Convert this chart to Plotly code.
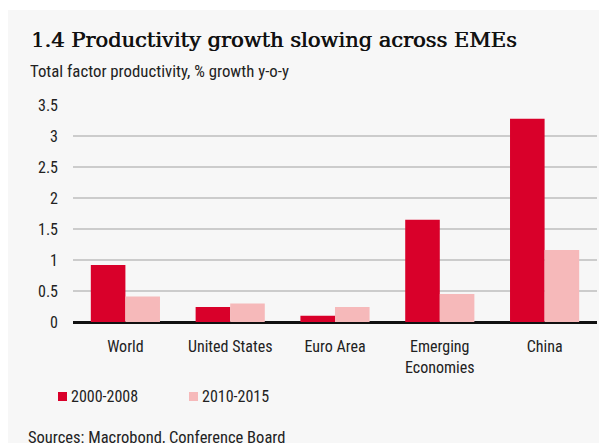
import plotly.graph_objects as go

categories = ["World", "United States", "Euro Area", "Emerging<br>Economies", "China"]
series_names = ["2000-2008", "2010-2015"]
values_2000_2008 = [0.92, 0.24, 0.10, 1.65, 3.28]
values_2010_2015 = [0.41, 0.30, 0.24, 0.45, 1.16]
y_ticks = [0, 0.5, 1, 1.5, 2, 2.5, 3, 3.5]
y_tick_labels = ["0", "0.5", "1", "1.5", "2", "2.5", "3", "3.5"]

RED = "#d9002a"
PINK = "#f6b9ba"
colors = [RED, PINK]
SANS = "Liberation Sans Narrow, Arial Narrow, Roboto Condensed, Liberation Sans"

OFF = 8  # page body margin offset
W, H = 607, 443
# plot area in screen pixels: x 73..597, y 105..322
L = 73 - OFF
T = 105 - OFF
R = W - (597 - OFF)
B = H - (322 - OFF)
pw, ph = W - L - R, H - T - B

def px(x):  # screen x -> paper
    return (x - OFF - L) / pw

def py(y):  # screen y -> paper
    return (H - B - (y - OFF)) / ph

fig = go.Figure()
for name, vals, col in zip(series_names, [values_2000_2008, values_2010_2015], colors):
    fig.add_trace(go.Bar(x=categories, y=vals, name=name,
                         marker=dict(color=col, line=dict(width=0))))

fig.add_shape(type="rect", xref="paper", yref="paper", layer="below",
              x0=px(8), x1=px(620), y0=py(460), y1=py(10),
              fillcolor="#f7f7f7", line=dict(width=0))

fig.add_annotation(xref="paper", yref="paper", x=px(29), y=py(40), xanchor="left", yanchor="middle",
                   text="1.4 Productivity growth slowing across EMEs", showarrow=False,
                   font=dict(family="DejaVu Serif", size=21, color="#111111",
                             shadow="0.6px 0px 0px #111111"))
fig.add_annotation(xref="paper", yref="paper", x=px(28), y=py(71), xanchor="left", yanchor="middle",
                   text="Total factor productivity, % growth y-o-y", showarrow=False,
                   font=dict(family=SANS, size=16.8, color="#222222"))
fig.add_annotation(xref="paper", yref="paper", x=px(26), y=py(437), xanchor="left", yanchor="middle",
                   text="Sources: Macrobond, Conference Board", showarrow=False,
                   font=dict(family=SANS, size=16.5, color="#222222"))

# manual legend
legend_sq_x = [58, 189]
for name, col, sx in zip(series_names, colors, legend_sq_x):
    fig.add_shape(type="rect", xref="paper", yref="paper",
                  x0=px(sx), x1=px(sx + 9), y0=py(401), y1=py(392),
                  fillcolor=col, line=dict(width=0))
    fig.add_annotation(xref="paper", yref="paper", x=px(sx + 11), y=py(396.5),
                       xanchor="left", yanchor="middle", text=name, showarrow=False,
                       font=dict(family=SANS, size=16, color="#222222"))

fig.update_layout(
    width=W, height=H,
    margin=dict(l=L, r=R, t=T, b=B),
    paper_bgcolor="white",
    plot_bgcolor="rgba(0,0,0,0)",
    barmode="group",
    bargap=0.34,
    bargroupgap=0,
    font=dict(family=SANS, size=16, color="#222222"),
    showlegend=False,
    xaxis=dict(showgrid=False, showline=False, ticks="", ticklabelstandoff=13,
               tickfont=dict(family=SANS, size=16, color="#222222")),
    yaxis=dict(range=[0, 3.5], tickvals=y_ticks, ticktext=y_tick_labels,
               showgrid=True, gridcolor="#cccccc", gridwidth=1.5,
               zeroline=True, zerolinecolor="#111111", zerolinewidth=2.5,
               showline=False, ticks="", ticklabelstandoff=14,
               tickfont=dict(family=SANS, size=16, color="#222222")),
)

fig.write_html("out.html")
